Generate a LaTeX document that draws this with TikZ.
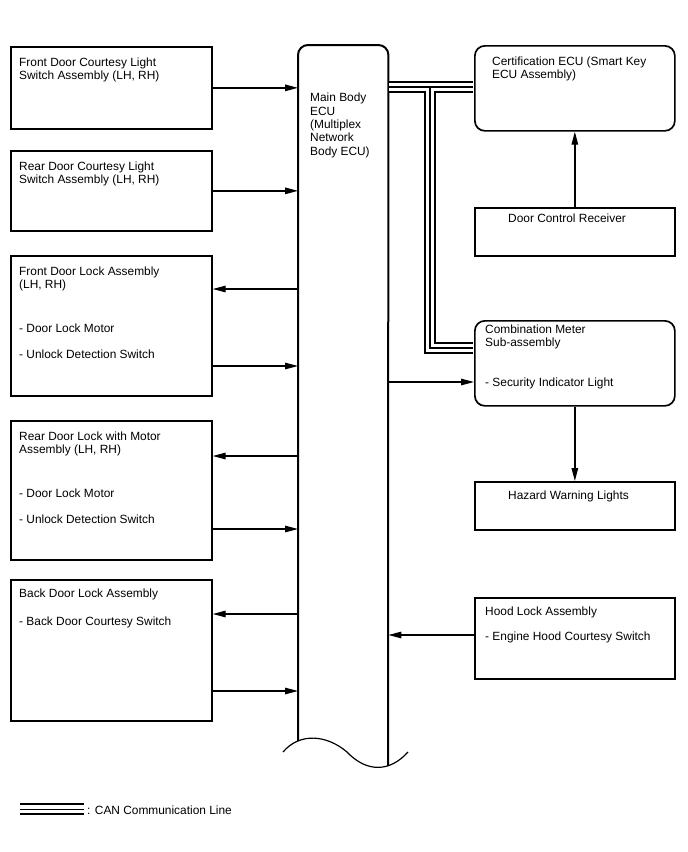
\documentclass[tikz,border=0pt]{standalone}
\usepackage{fontspec}
\setmainfont{Liberation Sans}
\usetikzlibrary{arrows.meta}
\begin{document}
\begin{tikzpicture}[x=1pt,y=-1pt,
  box/.style={draw, line width=1.7pt, inner sep=0pt, anchor=north west},
  rbox/.style={box, rounded corners=10pt},
  txt/.style={anchor=north west, inner sep=0pt, align=left, font=\fontsize{11.9}{13.3}\selectfont},
  conn/.style={line width=1.3pt, -{Triangle[length=13pt,width=6.5pt]}},
  eculine/.style={line width=2pt, rounded corners=10pt},
  canA/.style={line width=12.1pt, black, line join=miter},
  canB/.style={line width=8.1pt, white, line join=miter},
  canC/.style={line width=1.6pt, black, line join=miter}]
\useasboundingbox[fill=white] (0,0) rectangle (688,852);

% left boxes
\node[box, minimum width=201pt, minimum height=82pt] (b1) at (10,46) {};
\node[box, minimum width=201pt, minimum height=80pt] (b2) at (10,150) {};
\node[box, minimum width=201pt, minimum height=140pt] (b3) at (10,255) {};
\node[box, minimum width=201pt, minimum height=139pt] (b4) at (10,420) {};
\node[box, minimum width=201pt, minimum height=141pt] (b5) at (10,579) {};

% right boxes
\node[rbox, minimum width=200pt, minimum height=85pt] (cert) at (474,45) {};
\node[box, minimum width=200pt, minimum height=48pt] (dcr) at (474,207) {};
\node[rbox, minimum width=200pt, minimum height=85pt] (comb) at (474,320) {};
\node[box, minimum width=200pt, minimum height=48pt] (haz) at (474,481) {};
\node[box, minimum width=200pt, minimum height=81pt] (hood) at (474,597) {};

% main ECU
\node[inner sep=0pt, minimum width=90pt, minimum height=721pt, anchor=north west] (ecu) at (298,45) {};
\coordinate (eL) at (298,741);
\coordinate (eR) at (388,766);
\draw[eculine] (eL) -- (ecu.north west) -- (ecu.north east) -- (eR);
\coordinate (w1) at (283,752);
\coordinate (w2) at (347,752);
\coordinate (w3) at (408,752);
\draw[line width=1.2pt] (w1) .. controls (300,732) and (327,735) .. (w2)
  .. controls (367,773) and (390,772) .. (w3);

% CAN bus
\coordinate (bs) at (ecu.east |- 0,87);
\coordinate (be) at (cert.west |- 0,87);
\coordinate (bj) at (430,87);
\coordinate (bc) at (430,348);
\coordinate (bm) at (comb.west |- 0,348);
\foreach \s in {canA,canB,canC}{
  \draw[\s, shorten <=1pt, shorten >=0.85pt] (bs) -- (be);
  \draw[\s, shorten >=0.85pt] (bj) -- (bc) -- (bm);
}
\draw[canC] (bj) -- ++(-0.8,0);

% connectors left
\draw[conn] (b1.east) -- (b1.east -| ecu.west);
\draw[conn] (b2.east) -- (b2.east -| ecu.west);
\draw[conn] (ecu.west |- 0,289) -- (b3.east |- 0,289);
\draw[conn] (b3.east |- 0,366) -- (ecu.west |- 0,366);
\draw[conn] (ecu.west |- 0,456) -- (b4.east |- 0,456);
\draw[conn] (b4.east |- 0,529) -- (ecu.west |- 0,529);
\draw[conn] (ecu.west |- 0,614) -- (b5.east |- 0,614);
\draw[conn] (b5.east |- 0,691) -- (ecu.west |- 0,691);

% connectors right
\draw[conn] (dcr.north) -- (cert.south);
\draw[conn] (comb.south) -- (haz.north);
\draw[conn] (ecu.east |- 0,382) -- (comb.west |- 0,382);
\draw[conn] (hood.west |- 0,635) -- (ecu.east |- 0,635);

% texts
\node[txt] (t1) at (19,57.4) {Front Door Courtesy Light\\Switch Assembly (LH, RH)};
\node[txt] (t2) at (19,161.4) {Rear Door Courtesy Light\\Switch Assembly (LH, RH)};
\node[txt] (t3a) at (19,266.4) {Front Door Lock Assembly\\(LH, RH)};
\node[txt] (t3b) at (19,323.4) {- Door Lock Motor};
\node[txt] (t3c) at (19,349.4) {- Unlock Detection Switch};
\node[txt] (t4a) at (19,431.4) {Rear Door Lock with Motor\\Assembly (LH, RH)};
\node[txt] (t4b) at (19,488.4) {- Door Lock Motor};
\node[txt] (t4c) at (19,514.4) {- Unlock Detection Switch};
\node[txt] (t5a) at (19,588.4) {Back Door Lock Assembly};
\node[txt] (t5b) at (19,616.4) {- Back Door Courtesy Switch};
\node[txt] (tm) at (310,93.1) {Main Body\\ECU\\(Multiplex\\Network\\Body ECU)};
\node[txt] (tc) at (492,56.4) {Certification ECU (Smart Key\\ECU Assembly)};
\node[txt] (td) at (508,213.4) {Door Control Receiver};
\node[txt] (tcm) at (485,324.4) {Combination Meter\\Sub-assembly};
\node[txt] (tcs) at (485,377.4) {- Security Indicator Light};
\node[txt] (th) at (508,490.4) {Hazard Warning Lights};
\node[txt] (tha) at (485,606.4) {Hood Lock Assembly};
\node[txt] (thb) at (485,631.4) {- Engine Hood Courtesy Switch};

% legend
\coordinate (la) at (20,809.3);
\coordinate (lb) at (84,809.3);
\foreach \s in {canA,canB,canC}{ \draw[\s] (la) -- (lb); }
\node[txt] (tl) at (87,805.4) {: CAN Communication Line};
\end{tikzpicture}
\end{document}
